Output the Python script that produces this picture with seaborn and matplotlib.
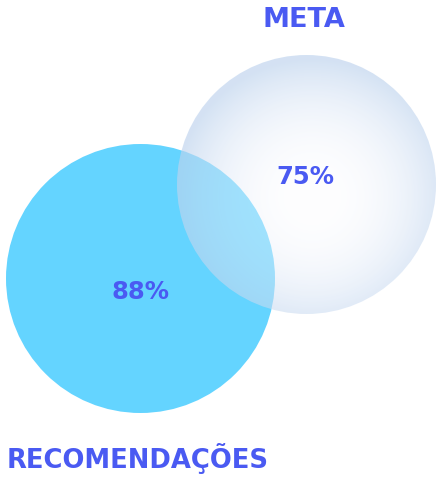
import numpy as np
import matplotlib
matplotlib.use("Agg")
import matplotlib.pyplot as plt
from matplotlib.patches import Circle
import seaborn as sns

# ---- data ----
labels = ["RECOMENDAÇÕES", "META"]
values = [88, 75]
value_labels = [f"{v}%" for v in values]

sns.set_theme(style="white")
plt.rcParams["font.family"] = ["DejaVu Sans"]

W, H = 436, 483
fig = plt.figure(figsize=(W / 100, H / 100), dpi=100)
ax = fig.add_axes([0, 0, 1, 1])
ax.set_xlim(0, W)
ax.set_ylim(H, 0)
ax.axis("off")

text_color = "#4a5af2"

# layout (positions, not data)
centers = [(140.5, 278.5), (306.5, 184.5)]
radii = [134.5, 129.5]
label_pos = [(138, 458), (304, 20)]
label_sizes = [18.6, 19.5]
value_pos = [(140, 292), (305, 177)]

blue = np.array([100, 212, 255], dtype=float)
# blue circle (RECOMENDAÇÕES)
ax.add_patch(Circle(centers[0], radii[0], facecolor=blue / 255, edgecolor="none", zorder=1))

# bubble (META): radial gradient, semi-transparent
cx, cy = centers[1]
r = radii[1]
n = 400
xs = np.linspace(cx - r, cx + r, n)
ys = np.linspace(cy - r, cy + r, n)
X, Y = np.meshgrid(xs, ys)
gx, gy = cx + 6, cy + 12
d = np.sqrt((X - gx) ** 2 + (Y - gy) ** 2) / (r * 1.06)
d = np.clip(d, 0, 1)
t = d ** 2.4
white = np.array([254, 254, 255], dtype=float)
edge = np.array([212, 226, 244], dtype=float)
Wres = white[None, None, :] * (1 - t[..., None]) + edge[None, None, :] * t[..., None]
a = 1 - (Wres[..., 0] - 160.0) / (255.0 - blue[0])
a = np.clip(a, 0.3, 0.95)
C = (Wres - (1 - a)[..., None] * 255) / a[..., None]
C = np.clip(C, 0, 255) / 255.0
img = np.dstack([C, a])
im = ax.imshow(img, extent=(cx - r, cx + r, cy + r, cy - r), origin="upper",
               interpolation="bilinear", zorder=2)
clip = Circle(centers[1], r, transform=ax.transData, facecolor="none", edgecolor="none")
ax.add_patch(clip)
im.set_clip_path(clip)

# texts
for (x, y), lab, fs in zip(label_pos, labels, label_sizes):
    ax.text(x, y, lab, ha="center", va="center", fontsize=fs, fontweight="bold",
            color=text_color, zorder=5)
for (x, y), lab in zip(value_pos, value_labels):
    ax.text(x, y, lab, ha="center", va="center", fontsize=17.5, fontweight="bold",
            color=text_color, zorder=5)

ax.set_xlim(0, W)
ax.set_ylim(H, 0)
fig.savefig("out.png", dpi=100)
